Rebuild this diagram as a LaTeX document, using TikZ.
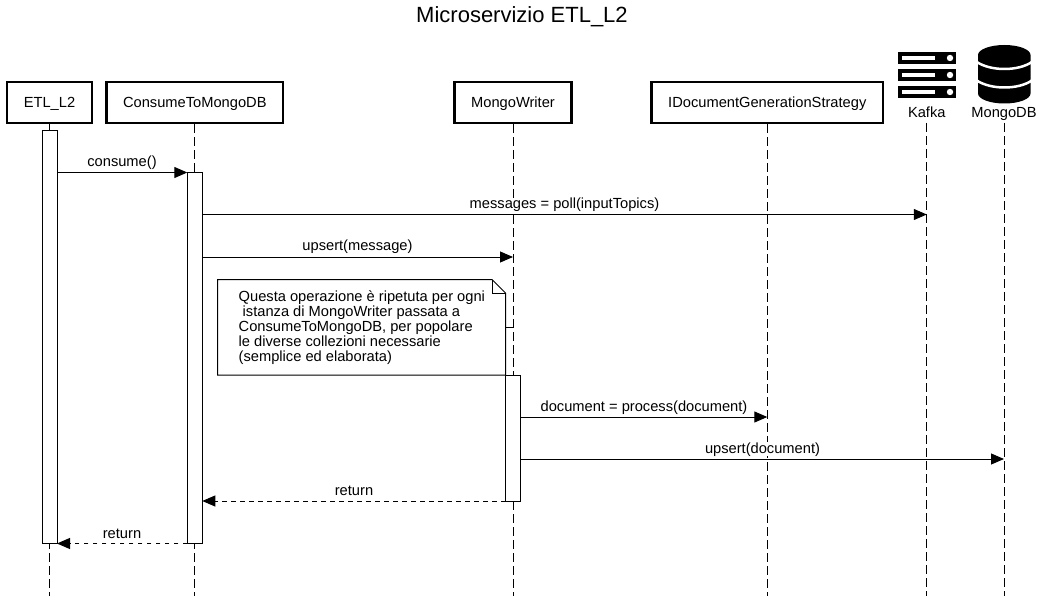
\documentclass[tikz,border=0pt]{standalone}
\usepackage{fontspec}
\setmainfont{Liberation Sans}
\usetikzlibrary{arrows.meta}

\tikzset{
    head/.style={draw, line width=2.2pt, fill=white, minimum height=41pt, inner sep=0pt},
    bar/.style={draw, line width=1pt, fill=white, minimum width=15pt, inner sep=0pt},
    lifeline/.style={line width=1pt, dash pattern=on 9pt off 4pt},
    msg/.style={line width=1pt, -{Triangle[length=13pt,width=11pt]}},
    back/.style={msg, dash pattern=on 4.5pt off 4.5pt},
    label/.style={font=\fontsize{14.67}{15}\selectfont, inner sep=0pt},
    line/.style={label, anchor=base},
    tag/.style={line, fill=white}
}

\begin{document}
\begin{tikzpicture}[x=1pt, y=-1pt]
\useasboundingbox (0,0) rectangle (1044,596);

\node[line, font=\fontsize{22}{24}\selectfont] (title) at (522,23) {Microservizio ETL\_L2};

% Lifeline
\node[head, minimum width=85.5pt] (etl) at (49.5,102.6) {};
\node[head, minimum width=176.5pt] (consumer) at (194.8,102.6) {};
\node[head, minimum width=117pt] (writer) at (513,102.6) {};
\node[head, minimum width=231.5pt] (strategy) at (767.3,102.6) {};
\node[line] (etlText) at (49.5,108) {ETL\_L2};
\node[line] (consumerText) at (194.8,108) {ConsumeToMongoDB};
\node[line] (writerText) at (513,108) {MongoWriter};
\node[line] (strategyText) at (767.3,108) {IDocumentGenerationStrategy};
\node[line] (kafka) at (926.8,118) {Kafka};
\node[line] (mongodb) at (1004,118) {MongoDB};

\coordinate (kafkaTop) at (926.8,123);
\coordinate (mongodbTop) at (1004,123);
\coordinate (etlEnd) at (49.5,596);
\coordinate (consumerEnd) at (194.8,596);
\coordinate (writerEnd) at (513,596);
\coordinate (strategyEnd) at (767.3,596);
\coordinate (kafkaEnd) at (926.8,596);
\coordinate (mongodbEnd) at (1004,596);

\draw[lifeline] (etl.south) -- (etlEnd);
\draw[lifeline] (consumer.south) -- (consumerEnd);
\draw[lifeline] (writer.south) -- (writerEnd);
\draw[lifeline] (strategy.south) -- (strategyEnd);
\draw[lifeline] (kafkaTop) -- (kafkaEnd);
\draw[lifeline] (mongodbTop) -- (mongodbEnd);

% Icone
\foreach \y in {52,69,86} {
    \fill[black] (897.5,\y) rectangle (956,\y+12.5);
    \fill[white] (901.7,\y+4.3) rectangle (935,\y+8);
    \fill[white] (950,\y+6) circle (3.2);
}
\fill[black] (978,55) .. controls (978,49.5) and (990,45) .. (1004.3,45)
    .. controls (1019,45) and (1030.5,49.5) .. (1030.5,55) -- (1030.5,93.5)
    .. controls (1030.5,99) and (1019,103.5) .. (1004.3,103.5)
    .. controls (990,103.5) and (978,99) .. (978,93.5) -- cycle;
\draw[white, line width=2.5pt] (976,61.5) .. controls (984,67) and (995,69) .. (1004.3,69)
    .. controls (1014,69) and (1025,67) .. (1032.5,61.5);
\draw[white, line width=2.5pt] (976,80) .. controls (984,85.5) and (995,87.5) .. (1004.3,87.5)
    .. controls (1014,87.5) and (1025,85.5) .. (1032.5,80);

% Attivazioni
\node[bar, minimum height=413pt] (etlBar) at (49.5,337) {};
\node[bar, minimum height=370.5pt] (consumerBar) at (194.8,358.25) {};
\node[bar, minimum height=126pt] (writerBar) at (513.2,438) {};

% Nota
\draw[line width=1pt, fill=white] (217.5,279.5) -- (492,279.5) -- (505.5,293) -- (505.5,375) -- (217.5,375) -- cycle;
\draw[line width=1pt] (492,279.5) -- (492,293) -- (505.5,293);
\node[label, anchor=north west, align=left] (note) at (238.5,290) {Questa operazione è ripetuta per ogni\\
\hspace*{4pt}istanza di MongoWriter passata a\\
ConsumeToMongoDB, per popolare\\
le diverse collezioni necessarie\\
(semplice ed elaborata)};
\coordinate (noteTip) at (505.5,327);
\coordinate (noteLine) at (513,327);
\draw[line width=1pt] (noteTip) -- (noteLine);

% Messaggi
\coordinate (m1a) at (57,172.5);
\coordinate (m1b) at (187.3,172.5);
\coordinate (m2a) at (202.3,214.5);
\coordinate (m2b) at (926.8,214.5);
\coordinate (m3a) at (202.3,257);
\coordinate (m3b) at (513,257);
\coordinate (m4a) at (520.7,417);
\coordinate (m4b) at (767.3,417);
\coordinate (m5a) at (520.7,459);
\coordinate (m5b) at (1004,459);
\coordinate (m6a) at (505.7,501);
\coordinate (m6b) at (202.3,501);
\coordinate (m7a) at (187.3,543.5);
\coordinate (m7b) at (57,543.5);

\draw[msg] (m1a) -- (m1b);
\draw[msg] (m2a) -- (m2b);
\draw[msg] (m3a) -- (m3b);
\draw[msg] (m4a) -- (m4b);
\draw[msg] (m5a) -- (m5b);
\draw[back] (m6a) -- (m6b);
\draw[back] (m7a) -- (m7b);

\node[tag] (l1) at (122,167) {consume()};
\node[tag] (l2) at (564.5,209) {messages = poll(inputTopics)};
\node[tag] (l3) at (357.5,251) {upsert(message)};
\node[tag] (l4) at (644,411) {document = process(document)};
\node[tag] (l5) at (762.5,453) {upsert(document)};
\node[tag] (l6) at (354,495) {return};
\node[tag] (l7) at (122,538) {return};

\end{tikzpicture}
\end{document}
